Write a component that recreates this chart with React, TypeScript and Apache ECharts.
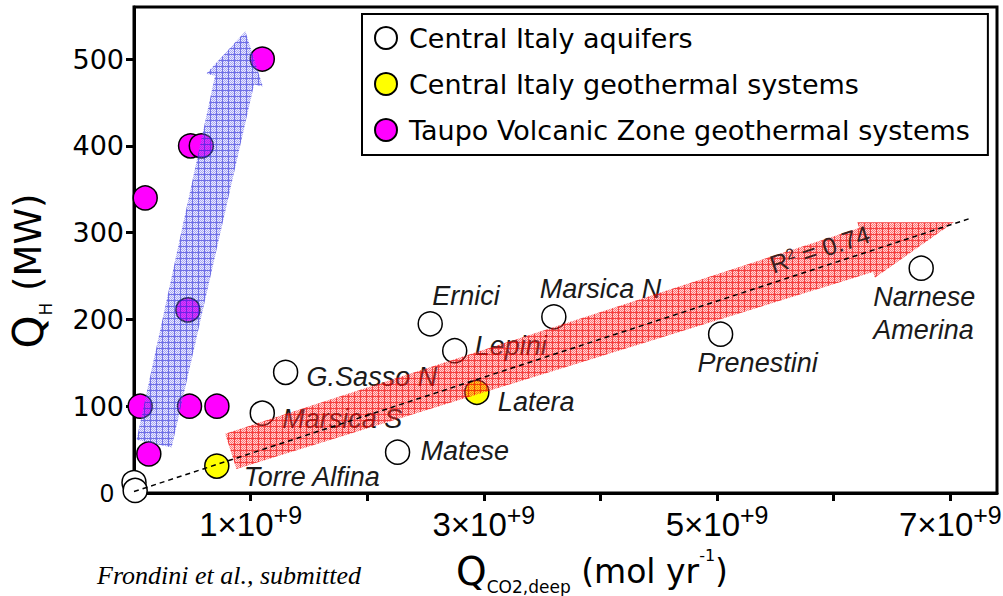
import React, { useEffect, useRef } from 'react';
import * as echarts from 'echarts';

const E9 = 1e9;

// Central Italy aquifers (x in 1e9 mol/yr, y in MW)
const aquiferNames = ['', '', 'Marsica S', 'G.Sasso N', 'Matese', 'Ernici', 'Lepini', 'Marsica N', 'Prenestini', 'Narnese\nAmerina'];
const aquiferX = [0.0, 0.01, 1.1, 1.3, 2.26, 2.54, 2.75, 3.6, 5.03, 6.75];
const aquiferY = [12, 3, 92, 139, 47, 195, 164, 203, 183, 259];

// Central Italy geothermal systems
const geoNames = ['Torre Alfina', 'Latera'];
const geoX = [0.71, 2.94];
const geoY = [31, 116];

// Taupo Volcanic Zone geothermal systems
const tvzX = [1.1, 0.485, 0.577, 0.096, 0.462, 0.053, 0.476, 0.711, 0.127];
const tvzY = [500, 400, 400, 340, 211, 100, 100, 100, 45];

// regression line (dashed)
const trendX = [0, 7.16];
const trendY = [1.7, 316];
const r2Label = 'R{s|2} = 0.74';
const r2At = [5.88, 281];

// trend arrows: [tailX, tailY, tipX, tipY]
const blueArrow = [0.172, 57, 0.955, 532];
const redArrow = [0.83, 48, 7.03, 312];

const yTicks = [100, 200, 300, 400, 500];
const yLabels = [0, 100, 200, 300, 400, 500];
const xTicks = [1, 2, 3, 4, 5, 6, 7];
const xLabels = [1, 3, 5, 7];

const legendNames = ['Central Italy aquifers', 'Central Italy geothermal systems', 'Taupo Volcanic Zone geothermal systems'];

// label offsets (px) from point centre to text start / middle
const labelOffsets: Record<string, [number, number]> = {
  'Marsica S': [20, 6],
  'G.Sasso N': [21, 5],
  'Matese': [23, -1],
  'Ernici': [2, -28],
  'Lepini': [20, -5],
  'Marsica N': [-14, -28],
  'Prenestini': [-23, 29],
  'Narnese\nAmerina': [-48, 45],
  'Torre Alfina': [27, 11],
  'Latera': [21, 10],
};

function makePattern(line: string, dot: string, light: string): string {
  const c = document.createElement('canvas');
  c.width = 6;
  c.height = 6;
  const ctx = c.getContext('2d')!;
  for (let i = 0; i < 6; i++) {
    for (let j = 0; j < 6; j++) {
      ctx.fillStyle = i === 0 || j === 0 ? line : (i + j) % 2 === 0 ? dot : light;
      ctx.fillRect(i, j, 1, 1);
    }
  }
  return c.toDataURL();
}

const arrowRender = (spec: { tail: number; neck: number; head: number; headLen: number }, fill: any) =>
  (params: any, api: any) => {
    const a = api.coord([api.value(0), api.value(1)]);
    const b = api.coord([api.value(2), api.value(3)]);
    const dx = b[0] - a[0];
    const dy = b[1] - a[1];
    const len = Math.hypot(dx, dy);
    const ux = dx / len;
    const uy = dy / len;
    const px = -uy;
    const py = ux;
    const nx = b[0] - ux * spec.headLen;
    const ny = b[1] - uy * spec.headLen;
    const pt = (x: number, y: number, h: number) => [x + px * h, y + py * h];
    const points = [
      pt(a[0], a[1], spec.tail),
      pt(nx, ny, spec.neck),
      pt(nx, ny, spec.head),
      [b[0], b[1]],
      pt(nx, ny, -spec.head),
      pt(nx, ny, -spec.neck),
      pt(a[0], a[1], -spec.tail),
    ];
    return { type: 'polygon', shape: { points }, style: { fill, stroke: 'none' } };
  };

export default function App() {
  const ref = useRef<HTMLDivElement>(null);

  useEffect(() => {
    if (!ref.current) return;
    const chart = echarts.init(ref.current, undefined, { renderer: 'svg' });

    const redFill = {
      image: makePattern('rgba(240,0,0,0.75)', 'rgba(255,30,30,0.62)', 'rgba(255,120,120,0.3)'),
      repeat: 'repeat',
      imageWidth: 6,
      imageHeight: 6,
    };
    const blueFill = {
      image: makePattern('rgba(50,50,220,0.7)', 'rgba(95,95,235,0.55)', 'rgba(175,175,250,0.25)'),
      repeat: 'repeat',
      imageWidth: 6,
      imageHeight: 6,
    };

    const labelBase = {
      show: true,
      position: 'inside',
      align: 'left',
      verticalAlign: 'middle',
      formatter: '{b}',
      fontFamily: 'Liberation Sans',
      fontStyle: 'italic',
      fontSize: 27,
      lineHeight: 33,
      color: '#1a1a1a',
    };

    const mkPoints = (names: string[], xs: number[], ys: number[]) =>
      xs.map((x, i) => ({
        name: names[i] || '',
        value: [x * E9, ys[i]],
        label: { offset: labelOffsets[names[i]] || [0, 0] },
      }));

    const pointStyle = (color: string) => ({ color, borderColor: '#000', borderWidth: 1.5, opacity: 1 });

    chart.setOption({
      animation: false,
      grid: {
        left: 134,
        top: 7,
        right: 6,
        bottom: 103,
        containLabel: false,
        outerBoundsMode: 'none',
        show: true,
        borderColor: '#000',
        borderWidth: 3,
        backgroundColor: 'transparent',
      },
      legend: {
        data: legendNames,
        orient: 'vertical',
        left: 362,
        top: 14,
        itemWidth: 36,
        itemHeight: 22,
        itemGap: 16,
        padding: [9, 18, 10, 12],
        borderColor: '#000',
        borderWidth: 2,
        borderRadius: 0,
        backgroundColor: '#fff',
        selectedMode: false,
        textStyle: { fontFamily: 'DejaVu Sans', fontSize: 27, color: '#000', lineHeight: 30 },
      },
      xAxis: {
        type: 'value',
        min: 0,
        max: 7.4 * E9,
        interval: E9,
        axisLine: { lineStyle: { color: '#000', width: 3 } },
        axisTick: {
          show: true,
          length: 8,
          lineStyle: { color: '#000', width: 3 },
          customValues: xTicks.map((v) => v * E9),
        },
        axisLabel: {
          customValues: xLabels.map((v) => v * E9),
          margin: 9,
          formatter: (v: number) => {
            const n = Math.round(v / E9);
            if (!xLabels.includes(n) || Math.abs(v - n * E9) > 1) return '';
            return `{m|${n}×10}{s|+9}`;
          },
          rich: {
            m: { fontFamily: 'Liberation Sans', fontSize: 33, lineHeight: 44, color: '#000' },
            s: { fontFamily: 'Liberation Sans', fontSize: 25, lineHeight: 25, verticalAlign: 'top', color: '#000' },
          },
        },
        splitLine: { show: false },
        name: '{q|Q}{b|CO2,deep}{p| (mol yr}{u|-1}{p|)}',
        nameLocation: 'middle',
        nameGap: 54,
        nameTextStyle: {
          padding: [0, 0, 0, 53],
          rich: {
            q: { fontFamily: 'DejaVu Sans', fontSize: 39, lineHeight: 48, color: '#000' },
            b: { fontFamily: 'DejaVu Sans', fontSize: 17, lineHeight: 27, verticalAlign: 'bottom', color: '#000' },
            p: { fontFamily: 'DejaVu Sans', fontSize: 33, lineHeight: 48, color: '#000' },
            u: { fontFamily: 'DejaVu Sans', fontSize: 16, lineHeight: 40, verticalAlign: 'top', color: '#000' },
          },
        },
      },
      yAxis: {
        type: 'value',
        min: 0,
        max: 560,
        interval: 100,
        axisLine: { lineStyle: { color: '#000', width: 3 } },
        axisTick: { show: true, length: 8, lineStyle: { color: '#000', width: 3 }, customValues: yTicks },
        axisLabel: {
          customValues: yLabels,
          margin: 10,
          fontFamily: 'DejaVu Sans',
          fontSize: 27,
          color: '#000',
          formatter: (v: number) => (v === 0 ? '{z|0}' : yLabels.includes(v) ? String(v) : ''),
          rich: {
            z: { fontFamily: 'Liberation Sans', fontSize: 25, color: '#000', padding: [0, 10, 0, 0] },
          },
        },
        splitLine: { show: false },
        name: '{q|Q}{h|H}{p| (MW)}',
        nameLocation: 'middle',
        nameRotate: 90,
        nameGap: 80,
        nameTextStyle: {
          padding: [0, 42, 0, 0],
          rich: {
            q: { fontFamily: 'DejaVu Sans', fontSize: 42, lineHeight: 52, color: '#000' },
            h: { fontFamily: 'DejaVu Sans', fontSize: 17, lineHeight: 17, verticalAlign: 'bottom', color: '#000' },
            p: { fontFamily: 'DejaVu Sans', fontSize: 37, lineHeight: 52, color: '#000' },
          },
        },
      },
      graphic: [
        {
          type: 'text',
          x: 97,
          y: 575,
          style: {
            text: 'Frondini et al., submitted',
            fontFamily: 'Liberation Serif',
            fontStyle: 'italic',
            fontSize: 26,
            fill: '#000',
            align: 'left',
            verticalAlign: 'middle',
          },
        },
      ],
      series: [
        {
          name: legendNames[0],
          type: 'scatter',
          z: 2,
          clip: false,
          symbol: 'circle',
          symbolSize: 24,
          itemStyle: pointStyle('#ffffff'),
          label: labelBase,
          data: mkPoints(aquiferNames, aquiferX, aquiferY),
        },
        {
          name: legendNames[1],
          type: 'scatter',
          z: 2,
          clip: false,
          symbol: 'circle',
          symbolSize: 24,
          itemStyle: pointStyle('#ffff00'),
          label: labelBase,
          data: mkPoints(geoNames, geoX, geoY),
        },
        {
          name: legendNames[2],
          type: 'scatter',
          z: 2,
          clip: false,
          symbol: 'circle',
          symbolSize: 24,
          itemStyle: pointStyle('#ff00ff'),
          data: tvzX.map((x, i) => [x * E9, tvzY[i]]),
        },
        {
          name: 'blue arrow',
          type: 'custom',
          z: 3,
          silent: true,
          encode: { x: [0, 2], y: [1, 3] },
          data: [blueArrow.map((v, i) => (i % 2 === 0 ? v * E9 : v))],
          renderItem: arrowRender({ tail: 18, neck: 20, head: 29, headLen: 50 }, blueFill),
        },
        {
          name: 'red arrow',
          type: 'custom',
          z: 3,
          silent: true,
          encode: { x: [0, 2], y: [1, 3] },
          data: [redArrow.map((v, i) => (i % 2 === 0 ? v * E9 : v))],
          renderItem: arrowRender({ tail: 18.5, neck: 23, head: 29, headLen: 92 }, redFill),
        },
        {
          name: 'trend',
          type: 'line',
          z: 4,
          silent: true,
          symbol: 'none',
          lineStyle: { color: '#000', width: 1.5, type: [5, 4] },
          data: trendX.map((x, i) => [x * E9, trendY[i]]),
        },
        {
          name: 'r2',
          type: 'custom',
          z: 5,
          silent: true,
          encode: { x: 0, y: 1 },
          data: [[r2At[0] * E9, r2At[1]]],
          renderItem: (params: any, api: any) => {
            const p = api.coord([api.value(0), api.value(1)]);
            return {
              type: 'text',
              x: p[0],
              y: p[1],
              rotation: (18 * Math.PI) / 180,
              style: {
                text: r2Label,
                fontFamily: 'Liberation Sans',
                fontSize: 25,
                fill: '#3a2020',
                align: 'center',
                verticalAlign: 'middle',
                rich: { s: { fontFamily: 'Liberation Sans', fontSize: 15, verticalAlign: 'top', lineHeight: 15, fill: '#3a2020' } },
              },
            };
          },
        },
      ],
    });

    return () => chart.dispose();
  }, []);

  return (
    <div
      ref={ref}
      style={{ position: 'absolute', left: 0, top: 0, width: 1003, height: 596, background: '#fff' }}
    />
  );
}
